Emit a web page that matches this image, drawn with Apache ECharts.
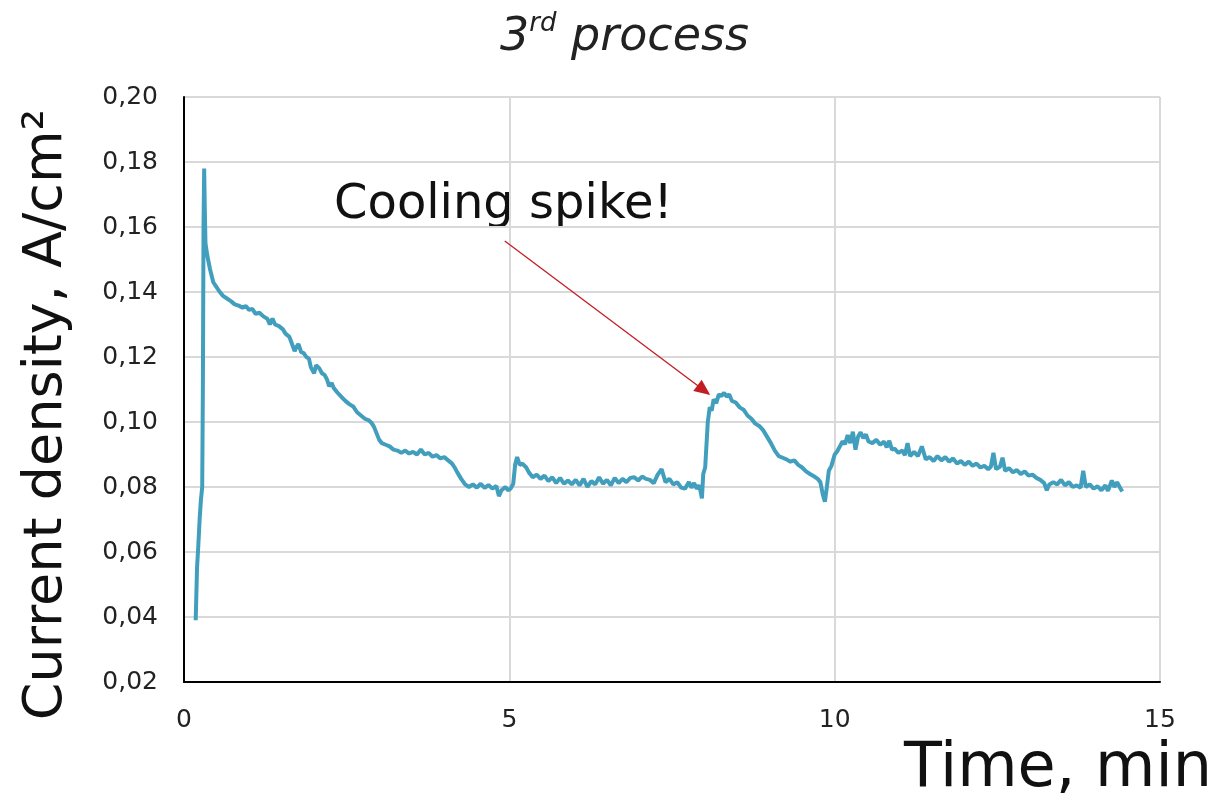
<!DOCTYPE html>
<html><head><meta charset="utf-8">
<script src="https://cdn.jsdelivr.net/npm/echarts@6/dist/echarts.min.js"></script>
<style>html,body{margin:0;padding:0;background:#fff}#c{width:1220px;height:800px}</style>
</head><body><div id="c"></div>
<script>
const timeMin = [0.18,0.20,0.22,0.24,0.26,0.28,0.29,0.30,0.31,0.32,0.33,0.36,0.40,0.45,0.50,0.55,0.60,0.66,0.72,0.78,0.84,0.90,0.95,1.00,1.05,1.10,1.16,1.22,1.28,1.32,1.36,1.40,1.46,1.52,1.56,1.62,1.66,1.70,1.73,1.76,1.80,1.84,1.88,1.92,1.95,2.00,2.03,2.08,2.12,2.16,2.20,2.23,2.27,2.30,2.36,2.42,2.48,2.54,2.60,2.66,2.72,2.78,2.84,2.88,2.92,2.96,3.00,3.04,3.10,3.16,3.22,3.28,3.34,3.40,3.46,3.52,3.58,3.64,3.70,3.76,3.82,3.88,3.94,4.00,4.06,4.12,4.16,4.20,4.26,4.32,4.38,4.44,4.50,4.56,4.62,4.68,4.74,4.80,4.84,4.88,4.94,4.98,5.02,5.06,5.09,5.12,5.16,5.20,5.26,5.30,5.36,5.42,5.48,5.54,5.60,5.66,5.72,5.78,5.84,5.90,5.96,6.02,6.08,6.14,6.20,6.26,6.32,6.38,6.44,6.50,6.56,6.62,6.68,6.74,6.80,6.86,6.92,6.98,7.04,7.10,7.16,7.22,7.28,7.34,7.40,7.46,7.52,7.58,7.64,7.70,7.76,7.80,7.84,7.88,7.92,7.96,7.98,8.01,8.05,8.08,8.11,8.14,8.18,8.22,8.26,8.30,8.34,8.38,8.42,8.48,8.54,8.60,8.66,8.72,8.78,8.84,8.90,8.96,9.02,9.08,9.14,9.20,9.26,9.32,9.38,9.44,9.50,9.56,9.62,9.68,9.74,9.78,9.82,9.85,9.88,9.91,9.95,10.00,10.04,10.08,10.12,10.16,10.20,10.24,10.28,10.32,10.36,10.40,10.44,10.48,10.52,10.58,10.64,10.70,10.76,10.80,10.84,10.88,10.92,10.98,11.04,11.08,11.12,11.16,11.22,11.28,11.34,11.40,11.46,11.52,11.58,11.64,11.70,11.76,11.82,11.88,11.94,12.00,12.06,12.12,12.18,12.24,12.30,12.36,12.40,12.44,12.48,12.54,12.58,12.62,12.68,12.74,12.80,12.86,12.92,12.98,13.04,13.10,13.16,13.22,13.26,13.30,13.36,13.42,13.48,13.54,13.60,13.66,13.72,13.78,13.82,13.86,13.92,13.98,14.04,14.10,14.16,14.20,14.26,14.30,14.34,14.38,14.42];
const currentDensity = [0.039,0.055,0.062,0.070,0.076,0.080,0.110,0.160,0.178,0.165,0.155,0.151,0.147,0.143,0.1415,0.140,0.1388,0.1380,0.1372,0.1362,0.1358,0.1352,0.1357,0.1345,0.1348,0.1333,0.1336,0.1325,0.1318,0.1300,0.1318,0.1300,0.1295,0.1285,0.1272,0.1262,0.1240,0.1218,0.1232,0.1240,0.1215,0.1212,0.1200,0.1195,0.1168,0.1150,0.1175,0.1165,0.1150,0.1145,0.1130,0.1110,0.1120,0.1105,0.1090,0.1077,0.1065,0.1055,0.1048,0.1030,0.1020,0.1010,0.1005,0.0998,0.0985,0.0965,0.0945,0.0935,0.0930,0.0925,0.0915,0.0912,0.0905,0.0912,0.0903,0.0908,0.0900,0.0915,0.0900,0.0905,0.0893,0.0898,0.0888,0.0892,0.0882,0.0872,0.0860,0.0845,0.0825,0.0808,0.0800,0.0808,0.0798,0.0810,0.0797,0.0806,0.0795,0.0803,0.0772,0.0790,0.0800,0.0790,0.0795,0.0810,0.0870,0.0892,0.0868,0.0872,0.0860,0.0845,0.0830,0.0838,0.0825,0.0835,0.0818,0.0830,0.0812,0.0828,0.0810,0.0820,0.0808,0.0822,0.0805,0.0825,0.0800,0.0818,0.0808,0.0830,0.0810,0.0822,0.0805,0.0828,0.0812,0.0825,0.0815,0.0828,0.0830,0.0820,0.0832,0.0825,0.0822,0.0812,0.0838,0.0855,0.0815,0.0825,0.0808,0.0815,0.0798,0.0795,0.0815,0.0798,0.0812,0.0795,0.0805,0.0765,0.0840,0.0860,0.1000,0.1045,0.1035,0.1070,0.1058,0.1085,0.1080,0.1090,0.1078,0.1085,0.1065,0.1060,0.1045,0.1038,0.1020,0.1010,0.0995,0.0988,0.0975,0.0955,0.0935,0.0912,0.0895,0.0890,0.0885,0.0878,0.0882,0.0868,0.0860,0.0848,0.0840,0.0833,0.0825,0.0815,0.0775,0.0755,0.0800,0.0850,0.0865,0.0900,0.0910,0.0925,0.0940,0.0932,0.0960,0.0935,0.0970,0.0915,0.0955,0.0968,0.0950,0.0962,0.0940,0.0935,0.0945,0.0930,0.0940,0.0922,0.0942,0.0915,0.0918,0.0905,0.0912,0.0898,0.0935,0.0895,0.0908,0.0895,0.0925,0.0885,0.0892,0.0880,0.0895,0.0882,0.0892,0.0878,0.0888,0.0872,0.0880,0.0868,0.0878,0.0865,0.0872,0.0860,0.0865,0.0855,0.0862,0.0905,0.0855,0.0862,0.0890,0.0850,0.0858,0.0845,0.0852,0.0840,0.0848,0.0835,0.0838,0.0828,0.0822,0.0812,0.0790,0.0808,0.0815,0.0808,0.0822,0.0805,0.0815,0.0800,0.0805,0.0798,0.0850,0.0800,0.0808,0.0795,0.0802,0.0790,0.0805,0.0788,0.0820,0.0800,0.0815,0.0800,0.0786];
const xTicks = [0, 5, 10, 15];
const yTicks = ['0,02','0,04','0,06','0,08','0,10','0,12','0,14','0,16','0,18','0,20'];
const arrowFrom = [4.93, 0.1557];
const arrowTo = [7.99, 0.1098];

const FONT = 'DejaVu Sans';
const chart = echarts.init(document.getElementById('c'), null, {renderer: 'canvas'});
chart.setOption({
  animation: false,
  backgroundColor: '#fff',
  title: {
    text: '{a|3}{s|rd}{a| process}',
    left: 495, top: 6,
    textStyle: {
      rich: {
        a: {fontFamily: FONT, fontStyle: 'italic', fontWeight: 'normal', fontSize: 46, color: '#222', lineHeight: 54},
        s: {fontFamily: FONT, fontStyle: 'italic', fontWeight: 'normal', fontSize: 26, color: '#222', verticalAlign: 'top', lineHeight: 54, padding: [0,0,24,0]}
      }
    }
  },
  grid: {left: 184, right: 60, top: 97, bottom: 118, containLabel: false, outerBoundsMode: 'none'},
  xAxis: {
    type: 'value', min: 0, max: 15, interval: 5,
    name: 'Time, min', nameLocation: 'end', nameGap: 52,
    nameTextStyle: {fontFamily: FONT, fontSize: 62, color: '#111', align: 'right', verticalAlign: 'top', padding: [57, 0, 0, 0]},
    axisLine: {show: true, lineStyle: {color: '#000', width: 2}},
    axisTick: {show: false},
    axisLabel: {fontFamily: FONT, fontSize: 25, color: '#222', margin: 26, formatter: v => xTicks.includes(v) ? String(v) : ''},
    splitLine: {show: true, lineStyle: {color: '#d9d9d9', width: 2}}
  },
  yAxis: {
    type: 'value', min: 0.02, max: 0.20, interval: 0.02,
    name: 'Current density, A/cm²', nameLocation: 'middle', nameGap: 110, nameRotate: 90,
    nameTextStyle: {fontFamily: FONT, fontSize: 54, color: '#111', padding: [0, 50, 0, 0]},
    axisLine: {show: true, lineStyle: {color: '#000', width: 2}},
    axisTick: {show: false},
    axisLabel: {fontFamily: FONT, fontSize: 25, color: '#222', margin: 26,
      formatter: v => yTicks[Math.round((v - 0.02) / 0.02)]},
    splitLine: {show: true, lineStyle: {color: '#d9d9d9', width: 2}}
  },
  series: [{
    type: 'line',
    data: timeMin.map((t, i) => [t, currentDensity[i]]),
    showSymbol: false, symbol: 'none',
    lineStyle: {color: '#419fbd', width: 4},
    markLine: {
      silent: true, symbol: ['none', 'triangle'], symbolSize: [14, 16],
      label: {show: false},
      lineStyle: {color: '#c21f24', width: 1.3, type: 'solid'},
      data: [[{coord: arrowFrom}, {coord: arrowTo}]]
    }
  }],
  graphic: [{
    type: 'text', left: 334, top: 182,
    style: {text: 'Cooling spike!', fontFamily: FONT, fontSize: 48, fill: '#111'}
  }]
});
</script></body></html>
